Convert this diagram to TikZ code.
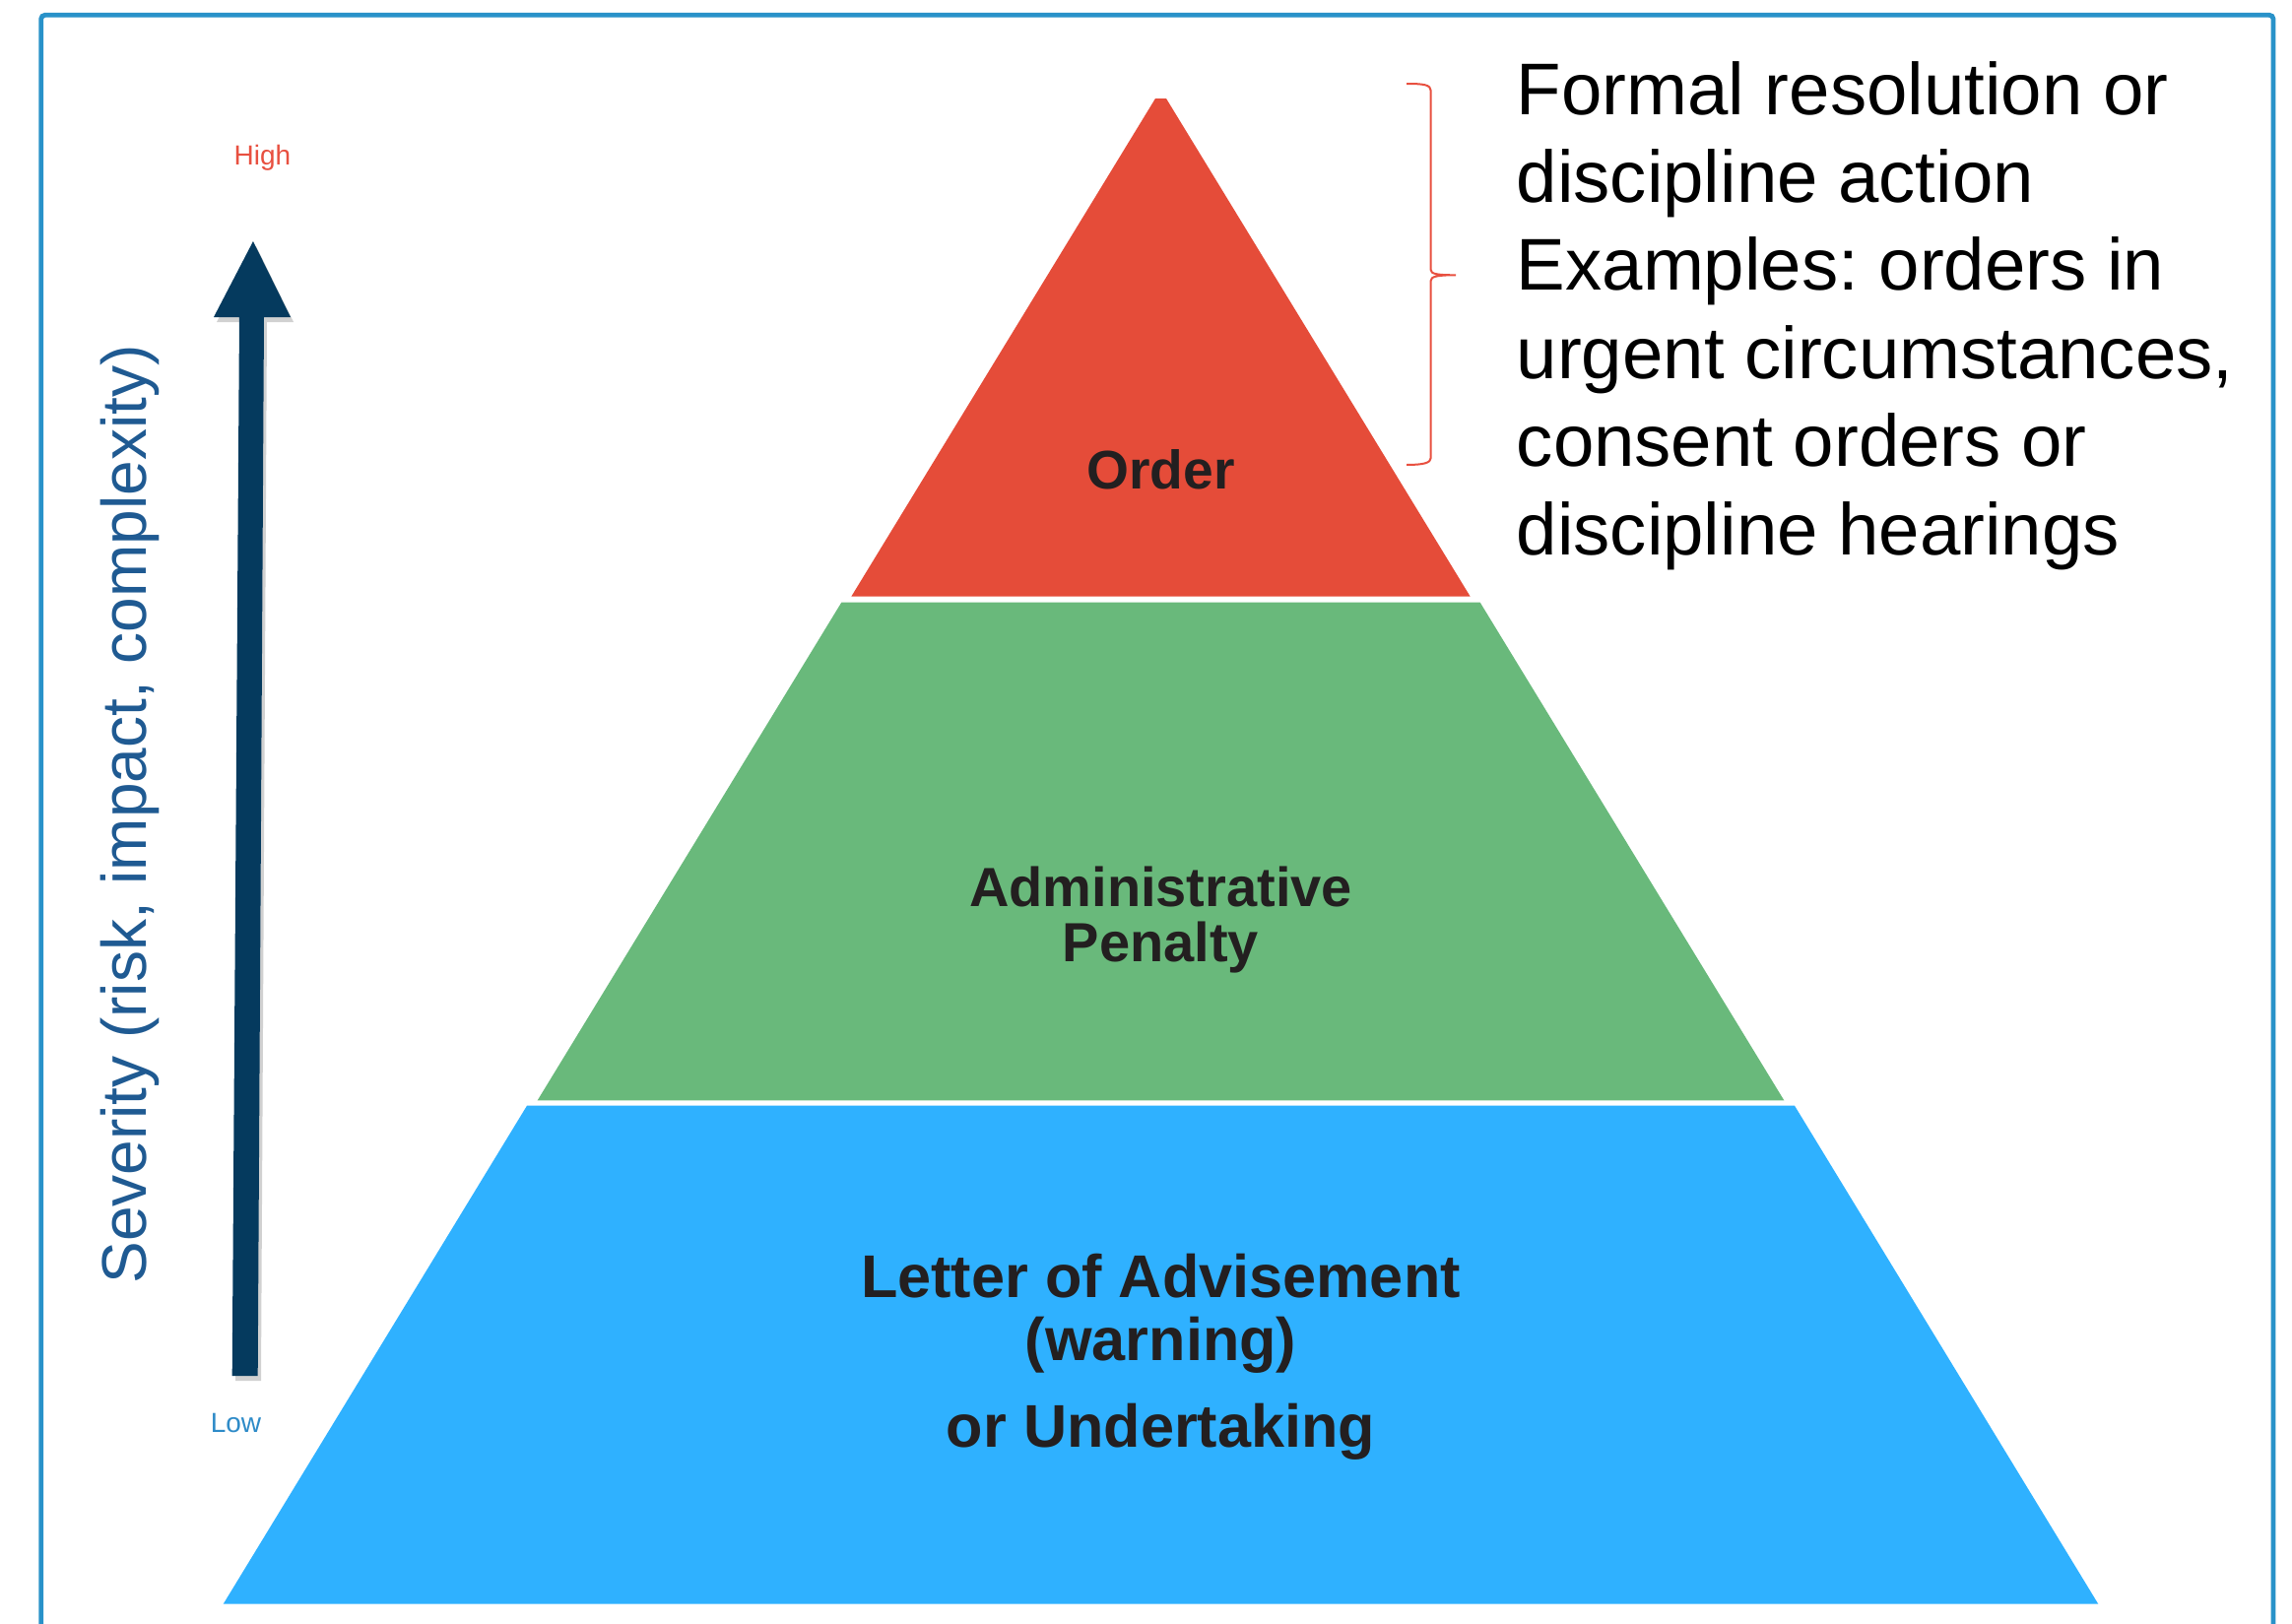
\documentclass[tikz,border=0pt]{standalone}
\usepackage{fontspec}
\setmainfont{Liberation Sans}
\frenchspacing
\definecolor{ordred}{RGB}{229,76,57}
\definecolor{admgreen}{RGB}{105,185,123}
\definecolor{letblue}{RGB}{47,177,255}
\definecolor{navy}{RGB}{5,58,94}
\definecolor{darktext}{RGB}{35,31,32}
\definecolor{highred}{RGB}{232,80,64}
\definecolor{lowblue}{RGB}{46,139,200}
\definecolor{sevblue}{RGB}{31,90,146}
\definecolor{framblue}{RGB}{41,146,201}
\tikzset{
  layertext/.style={anchor=base, inner sep=0pt, text=darktext, font=\bfseries\fontsize{14}{14}\selectfont},
  bigtext/.style={anchor=base, inner sep=0pt, text=darktext, font=\bfseries\fontsize{15.3}{15.3}\selectfont},
  sidetext/.style={anchor=base west, inner sep=0pt, text=black, font=\fontsize{18.6}{22.35}\selectfont},
  smalllabel/.style={anchor=base, inner sep=0pt, font=\fontsize{7}{7}\selectfont},
}
\begin{document}
\begin{tikzpicture}[x=0.25pt,y=-0.25pt]
\useasboundingbox (0,0) rectangle (2327,1649);
\fill[white] (0,0) rectangle (2327,1649);
% frame
\draw[framblue, line width=1.2pt, rounded corners=1pt] (41.7,1700) -- (41.7,15.3) -- (2308,15.3) -- (2308,1700);
% pyramid layers
\fill[ordred] (1173,100) -- (1184,100) -- (1492.7,605.7) -- (864.3,605.7) -- cycle;
\fill[admgreen] (854.3,611.7) -- (1502.7,611.7) -- (1811.3,1117.3) -- (545.7,1117.3) -- cycle;
\fill[letblue] (535,1122.7) -- (1822,1122.7) -- (2130.3,1628.7) -- (226.7,1628.7) -- cycle;
% layer texts
\node[layertext, font=\bfseries\fontsize{13.8}{13.8}\selectfont] (order) at (1178.5,496) {Order};
\node[layertext] (adm1) at (1178.5,920) {Administrative};
\node[layertext] (adm2) at (1178.5,976) {Penalty};
\node[bigtext] (let1) at (1178.5,1317) {Letter of Advisement};
\node[bigtext] (let2) at (1178.5,1381) {(warning)};
\node[bigtext] (let3) at (1178.5,1469) {or Undertaking};
% brace
\draw[highred, line width=0.5pt] (1428,85) .. controls (1445,85) and (1452.7,86) .. (1452.7,92) -- (1452.7,274) .. controls (1452.7,278) and (1458,279.3) .. (1478,279.3) .. controls (1458,279.3) and (1452.7,281) .. (1452.7,285) -- (1452.7,465) .. controls (1452.7,470) and (1445,472) .. (1428,472);
% side text
\node[sidetext] (s1) at (1539,116) {Formal resolution or};
\node[sidetext] (s2) at (1539,205.4) {discipline action};
\node[sidetext] (s3) at (1539,294.8) {Examples: orders in};
\node[sidetext] (s4) at (1539,384.2) {urgent circumstances,};
\node[sidetext] (s5) at (1539,473.6) {consent orders or};
\node[sidetext] (s6) at (1539,563) {discipline hearings};
% severity arrow with shadow
\fill[black, opacity=0.18] (260,250) -- (298,327) -- (271,327) -- (265,1402) -- (239,1402) -- (246,327) -- (220,327) -- cycle;
\fill[navy] (257,245) -- (295,322) -- (268,322) -- (261.7,1397) -- (235.7,1397) -- (243,322) -- (217,322) -- cycle;
\node[smalllabel, text=highred] (high) at (266.5,167) {High};
\node[smalllabel, text=lowblue] (low) at (239.5,1454) {Low};
\node[anchor=base, inner sep=0pt, rotate=90, text=sevblue, font=\fontsize{16}{16}\selectfont] (sev) at (148.5,827) {Severity (risk, impact, complexity)};
\end{tikzpicture}
\end{document}
